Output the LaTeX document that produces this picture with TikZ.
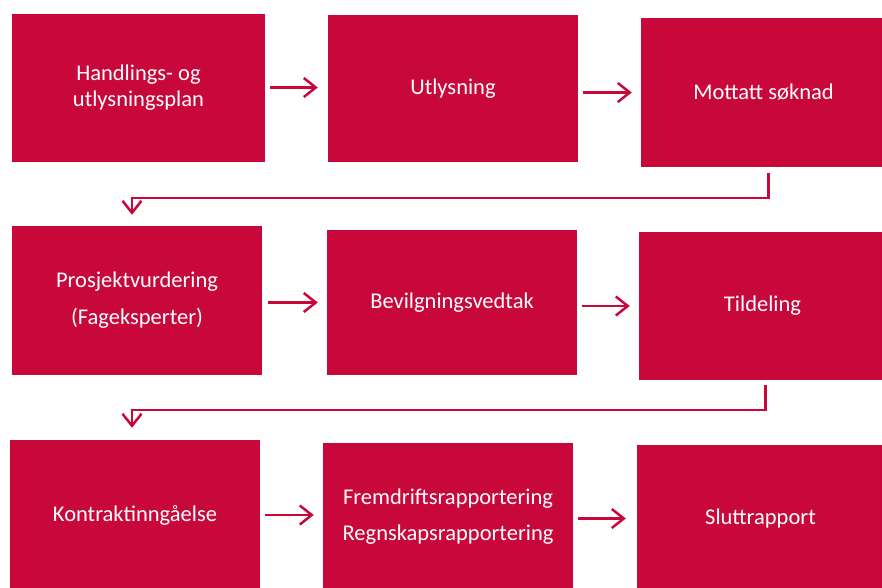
\documentclass[tikz,border=0pt]{standalone}
\usepackage{fontspec}
\setmainfont{Carlito}
\usetikzlibrary{arrows.meta,positioning}
\definecolor{boxred}{HTML}{C8083A}
\tikzset{stage/.style={fill=boxred,text=white,align=center,inner sep=0pt,
    minimum width=250pt,minimum height=148pt,font=\fontsize{22.5}{26}\selectfont},
  flow/.style={draw=boxred,line width=2.5pt,
    -{Straight Barb[length=12pt,width=19pt,line width=2.5pt]}}}
\begin{document}
\begin{tikzpicture}[x=1pt,y=-1pt]
\useasboundingbox (0,0) rectangle (882,587);
% row 1
\node [stage,minimum width=253pt] (plan) at (138.5,87.5) {Handlings- og\\utlysningsplan};
\node [stage,minimum height=147pt] (utlys) at (453,88.5) {Utlysning};
\node [stage,minimum width=245pt,minimum height=149pt] (soknad) at (763.5,92.5) {Mottatt søknad};
% row 2
\node [stage,minimum height=149pt] (vurd) at (137,300.5) {Prosjektvurdering\\[11pt](Fageksperter)};
\node [stage,minimum height=145pt] (vedtak) at (452,302.5) {Bevilgningsvedtak};
\node [stage,minimum width=247pt] (tild) at (762.5,306) {Tildeling};
% row 3
\node [stage,minimum height=150pt] (kontr) at (135,515) {Kontraktinngåelse};
\node [stage,minimum height=147pt] (rapp) at (448,516.5) {Fremdriftsrapportering\\[10pt]Regnskapsrapportering};
\node [stage,minimum width=247pt,minimum height=147pt] (slutt) at (760.5,518.5) {Sluttrapport};
% connectors
\draw [flow] ([xshift=5pt]plan.east) -- ([xshift=-10pt]plan.east -| utlys.west);
\draw [flow] ([xshift=5pt]utlys.east |- soknad.west) -- ([xshift=-9pt]soknad.west);
\draw [flow] ([xshift=5pt,yshift=-6pt]soknad.south) -- ++(0,25) -| ([xshift=-5pt,yshift=11pt]vurd.north);
\draw [flow] ([xshift=6pt]vurd.east |- vedtak.west) -- ([xshift=-9pt]vedtak.west);
\draw [flow] ([xshift=5pt]vedtak.east |- tild.west) -- ([xshift=-9pt]tild.west);
\draw [flow] ([xshift=3pt,yshift=-5pt]tild.south) -- ++(0,25) -| ([xshift=-3pt,yshift=12pt]kontr.north);
\draw [flow] ([xshift=5pt]kontr.east) -- ([xshift=-9pt]kontr.east -| rapp.west);
\draw [flow] ([xshift=5pt]rapp.east |- slutt.west) -- ([xshift=-11pt]slutt.west);
\end{tikzpicture}
\end{document}
